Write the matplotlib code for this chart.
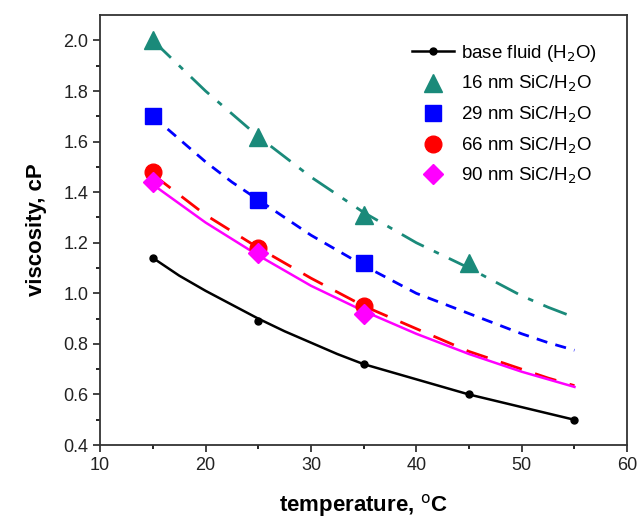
import numpy as np
import matplotlib
matplotlib.use("Agg")
import matplotlib.pyplot as plt

plt.rcParams['font.family'] = ['Liberation Sans', 'DejaVu Sans']

# measured points
t_base = [15, 25, 35, 45, 55]
v_base = [1.14, 0.89, 0.72, 0.60, 0.50]
t_16 = [15, 25, 35, 45]
v_16 = [2.00, 1.62, 1.31, 1.12]
t_29 = [15, 25, 35]
v_29 = [1.70, 1.37, 1.12]
t_66 = [15, 25, 35]
v_66 = [1.48, 1.18, 0.95]
t_90 = [15, 25, 35]
v_90 = [1.44, 1.16, 0.92]

# fitted curves
t_fit = [15, 17.5, 20, 22.5, 25, 27.5, 30, 32.5, 35, 37.5, 40, 42.5, 45, 47.5, 50, 52.5, 55]
fit_base = [1.14, 1.07, 1.01, 0.955, 0.90, 0.85, 0.805, 0.76, 0.72, 0.69, 0.66, 0.63, 0.60, 0.575, 0.55, 0.525, 0.50]
fit_16 = [2.00, 1.90, 1.80, 1.71, 1.62, 1.54, 1.46, 1.39, 1.32, 1.26, 1.20, 1.15, 1.10, 1.045, 0.99, 0.945, 0.905]
fit_29 = [1.70, 1.61, 1.52, 1.44, 1.37, 1.30, 1.23, 1.17, 1.11, 1.055, 1.00, 0.96, 0.92, 0.88, 0.84, 0.805, 0.775]
fit_66 = [1.47, 1.39, 1.31, 1.245, 1.18, 1.12, 1.06, 1.005, 0.95, 0.905, 0.86, 0.815, 0.77, 0.735, 0.70, 0.665, 0.635]
fit_90 = [1.43, 1.355, 1.28, 1.215, 1.15, 1.09, 1.03, 0.98, 0.93, 0.885, 0.84, 0.80, 0.76, 0.725, 0.69, 0.66, 0.63]

C_TEAL = "#1a8a7a"
C_BLUE = "#0000ff"
C_RED = "#ff0000"
C_MAG = "#ff00ff"

fig = plt.figure(figsize=(6.38, 5.23), dpi=100)
ax = fig.add_axes([0.157, 0.149, 0.826, 0.822])

ax.plot(t_fit, fit_16, color=C_TEAL, lw=2, dashes=(9, 4, 2, 4))
ax.plot(t_fit, fit_29, color=C_BLUE, lw=2, dashes=(4, 3))
ax.plot(t_fit, fit_66, color=C_RED, lw=2, dashes=(8, 5))
ax.plot(t_fit, fit_90, color=C_MAG, lw=1.8, ls="-")

ax.plot(t_fit, fit_base, color="black", lw=1.8)
ax.plot(t_base, v_base, "o", color="black", ms=5)
ax.plot([], [], "-o", color="black", ms=5, lw=1.8, label="base fluid (H$_2$O)")

ax.plot(t_16, v_16, "^", color=C_TEAL, ms=13, ls="none", label="16 nm SiC/H$_2$O")
ax.plot(t_29, v_29, "s", color=C_BLUE, ms=11, ls="none", label="29 nm SiC/H$_2$O")
ax.plot(t_66, v_66, "o", color=C_RED, ms=12, ls="none", label="66 nm SiC/H$_2$O")
ax.plot(t_90, v_90, "D", color=C_MAG, ms=10, ls="none", label="90 nm SiC/H$_2$O")

ax.set_xlim(10, 60)
ax.set_ylim(0.4, 2.1)
ax.set_xticks(np.arange(10, 61, 10))
ax.set_xticks(np.arange(15, 60, 10), minor=True)
ax.set_yticks(np.arange(0.4, 2.01, 0.2))
ax.set_yticks(np.arange(0.5, 2.1, 0.2), minor=True)
ax.set_yticklabels([f"{v:.1f}" for v in np.arange(0.4, 2.01, 0.2)])
ax.tick_params(which="major", direction="out", length=5, width=1.2, labelsize=13, colors="#222222")
ax.tick_params(which="minor", direction="out", length=3, width=1.2)
for s in ax.spines.values():
    s.set_linewidth(1.3)
    s.set_color("#333333")

ax.set_xlabel("temperature, $^{\\mathrm{o}}$C", fontsize=16, fontweight="bold", labelpad=13)
ax.set_ylabel("viscosity, cP", fontsize=16, fontweight="bold", labelpad=12)

ax.legend(loc="upper right", frameon=False, fontsize=13.5, handlelength=2.2,
          handletextpad=0.4, labelspacing=0.55, bbox_to_anchor=(0.975, 0.975))

fig.savefig("out.png", dpi=100)
